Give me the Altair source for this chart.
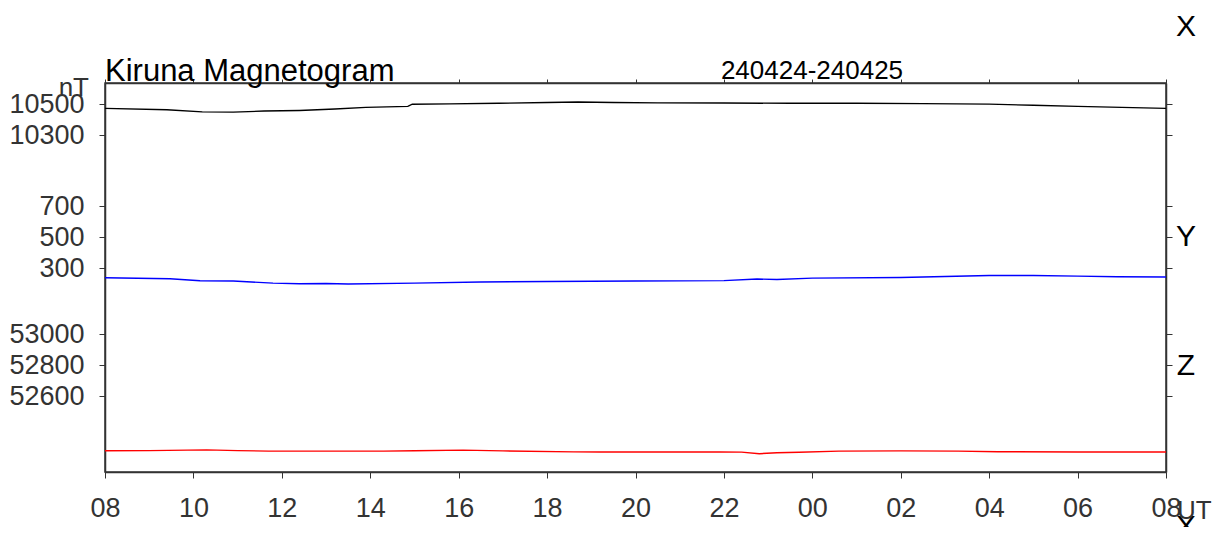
import altair as alt
import pandas as pd

# hours since 08 UT (24 April 2024)
x_hours = [0, 1.4, 2.2, 2.9, 3.6, 4.4, 5.2, 5.9, 6.85, 6.95, 7.8, 8.9, 10.0, 10.7, 11.5, 12.5, 14, 15.5, 17, 18.5, 20, 21, 22, 23, 24]
x_nT = [10472, 10463, 10450, 10448, 10455, 10459, 10468, 10479, 10485, 10499, 10501, 10505, 10510, 10513, 10510, 10508, 10507, 10505, 10505, 10503, 10500, 10492, 10485, 10479, 10472]

y_hours = [0, 1.47, 2.15, 2.9, 3.8, 4.4, 5, 5.5, 7, 8.5, 10, 12, 14, 14.75, 15.2, 16, 18, 19, 20, 21, 22, 22.9, 24]
y_nT = [237, 231, 218, 216, 203, 199, 200, 197, 203, 210, 213, 216, 219, 229, 226, 235, 239, 245, 252, 252, 248, 244, 242]

z_hours = [0, 1, 2.3, 3, 3.7, 5, 6.3, 7, 8.1, 9, 10.6, 11.2, 12.5, 13.9, 14.4, 14.8, 15.2, 15.7, 16.6, 18, 19.3, 20.2, 22, 24]
z_nT = [52247, 52248, 52253, 52248, 52245, 52245, 52245, 52247, 52251, 52246, 52240, 52239, 52239, 52239, 52238, 52228, 52234, 52237, 52245, 52246, 52245, 52241, 52239, 52239]

components = ["X", "Y", "Z"]
colors = ["black", "blue", "red"]
offsets = [-8126, 1016, -52110]  # shift of each component onto the shared panel scale

tick_pos = [2374, 2174, 1716, 1516, 1316, 890, 690, 490]
tick_labels = ["10500", "10300", "700", "500", "300", "53000", "52800", "52600"]
hour_ticks = list(range(0, 25, 2))

rows = []
for comp, hrs, vals, off in zip(components, [x_hours, y_hours, z_hours], [x_nT, y_nT, z_nT], offsets):
    for h, v in zip(hrs, vals):
        rows.append({"t": h, "v": v, "comp": comp, "u": v + off})
df = pd.DataFrame(rows)

FONT = "Liberation Sans"

xscale = alt.Scale(domain=[0, 24], nice=False, zero=False)
yscale = alt.Scale(domain=[0, 2510], nice=False, zero=False)

label_expr_y = "[" + ",".join("'%s'" % l for l in tick_labels) + "][indexof([" + ",".join(str(p) for p in tick_pos) + "], datum.value)]"
label_expr_x = "(((datum.value+8)%24) < 10 ? '0' : '') + ((datum.value+8)%24)"

lines = alt.Chart(df).mark_line(strokeWidth=1.4, clip=True).encode(
    x=alt.X("t:Q", scale=xscale, axis=alt.Axis(
        orient="bottom", values=hour_ticks, labelExpr=label_expr_x, title=None,
        tickSize=6, labelPadding=17, labelFont=FONT, labelFontSize=27,
        labelColor="#333", grid=False, labelFlush=False, labelOverlap=False)),
    y=alt.Y("u:Q", scale=yscale, axis=alt.Axis(
        orient="left", values=tick_pos, labelExpr=label_expr_y, title=None,
        tickSize=6, labelPadding=15, labelFont=FONT, labelFontSize=27,
        labelColor="#333", grid=False, labelFlush=False, labelOverlap=False,
        labelBaseline="middle")),
    color=alt.Color("comp:N", scale=alt.Scale(domain=components, range=colors), legend=None),
)

frame = alt.Chart(df).mark_line(opacity=0).encode(
    x=alt.X("t:Q", scale=xscale, axis=alt.Axis(
        orient="top", values=hour_ticks, labels=False, title=None, tickSize=4, grid=False)),
    y=alt.Y("u:Q", scale=yscale, axis=alt.Axis(
        orient="right", values=tick_pos, labels=False, title=None, tickSize=6, grid=False)),
    detail="comp:N",
)

def label(txt, x, y, size=30, align="center", baseline="middle", color="black"):
    return alt.Chart(pd.DataFrame({"s": [txt]})).mark_text(
        font=FONT, fontSize=size, align=align, baseline=baseline, color=color, clip=False
    ).encode(text="s:N", x=alt.value(x), y=alt.value(y))

texts = [
    label("Kiruna Magnetogram", 0, -2, size=31, align="left", baseline="alphabetic"),
    label("240424-240425", 707, -4, size=26, baseline="alphabetic"),
    label("nT", -16, 13, size=26, align="right", baseline="alphabetic", color="#333"),
    label("X", 1081, -56),
    label("Y", 1081, 154),
    label("Z", 1081, 283),
    label("X", 1081, 444),
    label("UT", 1072, 428, size=26, align="left", color="#333"),
]

chart = alt.layer(lines, frame, *texts).resolve_axis(
    x="independent", y="independent"
).properties(
    width=1061, height=389,
    autosize=alt.AutoSizeParams(type="none"),
    padding={"left": 97, "top": 75, "right": 47, "bottom": 55},
).configure_view(
    stroke="#333", strokeWidth=1.5
).configure_axis(
    domainColor="#333", domainWidth=1.5, tickColor="#333", tickWidth=1
)

chart.save("out.html", embed_options={"renderer": "svg", "actions": False})
